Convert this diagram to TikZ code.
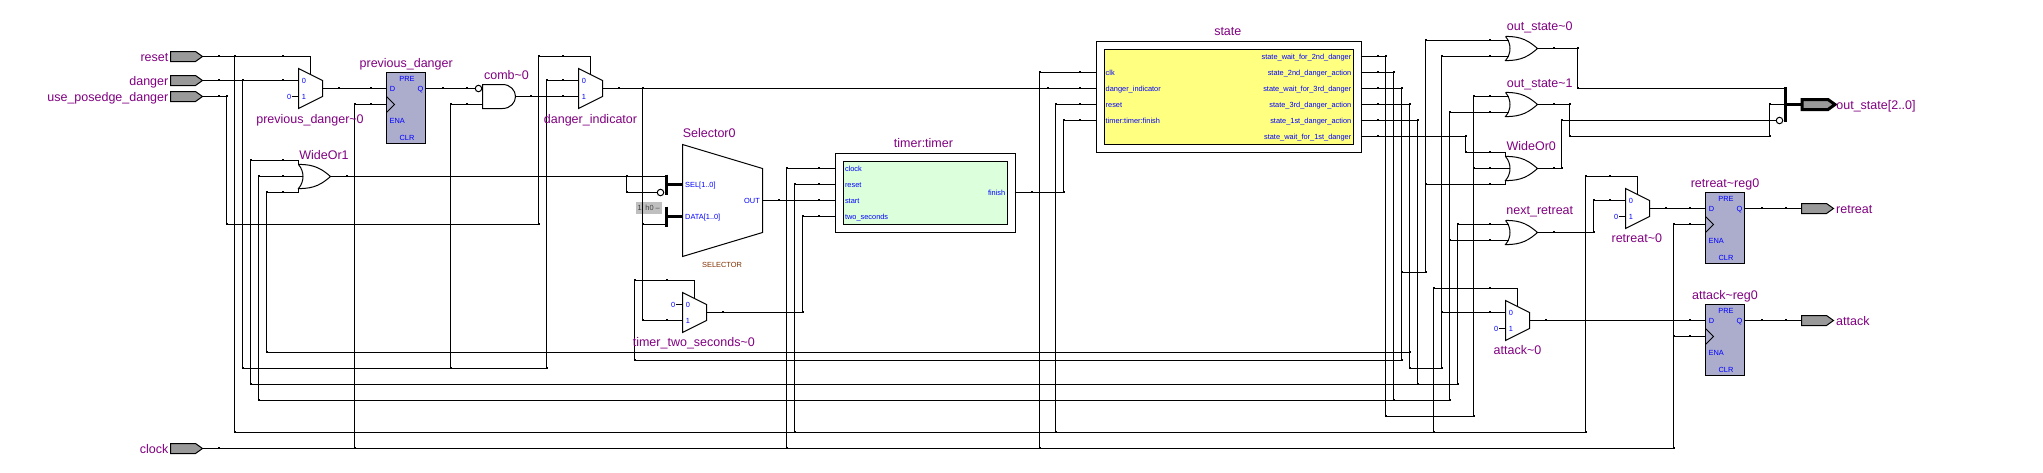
\documentclass[tikz,border=0pt]{standalone}
\usepackage{fontspec}
\setmainfont{Liberation Sans}
\usetikzlibrary{positioning}
\definecolor{labpurple}{RGB}{128,0,128}
\definecolor{pinblue}{RGB}{0,0,255}
\definecolor{ffblue}{RGB}{172,172,204}
\definecolor{portgray}{RGB}{153,153,153}
\definecolor{stateyellow}{RGB}{255,255,128}
\definecolor{timergreen}{RGB}{220,255,220}
\definecolor{selbrown}{RGB}{128,48,0}
\tikzset{
  wire/.style={line width=1pt},
  bus/.style={line width=3.6pt},
  gate/.style={line width=1pt,fill=white},
  lab/.style={text=labpurple,font=\fontsize{12.5}{15}\selectfont,inner sep=0pt,text height=9pt,text depth=0pt},
  pinlab/.style={text=pinblue,font=\fontsize{7.4}{9}\selectfont,inner sep=0pt,text height=5.3pt,text depth=0pt},
  bubble/.style={circle,draw,line width=1pt,fill=white,minimum size=6.5pt,inner sep=0pt},
  outerbox/.style={draw,line width=1pt,fill=white,anchor=north west,inner sep=0pt},
  innerbox/.style={draw,line width=1pt,anchor=north west,inner sep=0pt},
  muxgate/.pic={
    \draw[gate] (0,0)--(24,12)--(24,28)--(0,40)--cycle;
    \coordinate (-a) at (0,12);
    \coordinate (-b) at (0,28);
    \coordinate (-s) at (12,6);
    \coordinate (-t) at (12,-12);
    \coordinate (-o) at (24,20);
    \node[pinlab] (-la) at (5.5,12) {0};
    \node[pinlab] (-lb) at (5.5,28) {1};
  },
  orgate/.pic={
    \draw[gate] (0,0) .. controls (16,-0.5) and (24,5) .. (32,12) .. controls (24,19) and (16,24.5) .. (0,24) .. controls (6,17) and (6,7) .. (0,0);
    \coordinate (-a) at (3,4);
    \coordinate (-b) at (3,20);
    \coordinate (-o) at (32,12);
  },
  widegate/.pic={
    \draw[gate] (0,0) .. controls (16,-0.5) and (24,5) .. (32,12) .. controls (24,19) and (16,24.5) .. (0,24) .. controls (6,17) and (6,7) .. (0,0);
    \draw[wire] (0,-4)--(0,0) (0,24)--(0,28);
    \coordinate (-a) at (0,-4);
    \coordinate (-b) at (4.5,12);
    \coordinate (-c) at (0,28);
    \coordinate (-o) at (32,12);
  },
  flipflop/.pic={
    \draw[line width=1pt,fill=ffblue] (0,0) rectangle (39,71);
    \draw[line width=1pt] (0,24)--(8,32)--(0,40);
    \coordinate (-d) at (0,16);
    \coordinate (-c) at (0,32);
    \coordinate (-q) at (39,16);
    \node[pinlab] (-ld) at (6,16) {D};
    \node[pinlab] (-lq) at (34,16) {Q};
    \node[pinlab] (-lp) at (20.5,6) {PRE};
    \node[pinlab,anchor=west] (-le) at (3,48) {ENA};
    \node[pinlab] (-lc) at (20.5,65) {CLR};
  },
  portshape/.pic={
    \draw[line width=1pt,fill=portgray] (0,-5)--(25,-5)--(32,0)--(25,5)--(0,5)--cycle;
    \coordinate (-i) at (0,0);
    \coordinate (-o) at (32,0);
  },
  busshape/.pic={
    \draw[line width=3pt,fill=portgray] (0,-5)--(26,-5)--(33,0)--(26,5)--(0,5)--cycle;
    \coordinate (-i) at (0,0);
  }
}
\begin{document}
\begin{tikzpicture}[x=1pt,y=-1pt]
\useasboundingbox (0,0) rectangle (2043,472);
\begin{scope}[shift={(0.5,0.5)}]

\foreach \n/\x in {pos/226,rst/234,dng/242,wa/250,wb/258,wc/266,clk/354,cmb/450,posb/538,di/546,sl/626,tm/634,do/642,cl/786,re/794,tw/802,sc/1039,sr/1055,sf/1063,a/1385,b/1393,c/1401,d/1409,e/1417,g/1425,l/1433,h/1441,i/1449,j/1457,f/1465,k/1473,s/1561,r/1569,q/1577,n/1585,m/1593,u/1673,t/1769}
  \coordinate (v\n) at (\x,0);
\foreach \n/\y in {bare/136,out/272,pos/224,wc/352,tm/360,dng/368,wa/384,wb/400,a/416,rst/432}
  \coordinate (h\n) at (0,\y);

\pic (reset) at (170,56) {portshape};
\pic (danger) at (170,80) {portshape};
\pic (posedge) at (170,96) {portshape};
\pic (clock) at (170,448) {portshape};
\node[lab,anchor=east] (resetlab) at (168,56) {reset};
\node[lab,anchor=east] (dangerlab) at (168,80) {danger};
\node[lab,anchor=east] (posedgelab) at (168,96) {use\_posedge\_danger};
\node[lab,anchor=east] (clocklab) at (168,448) {clock};

\pic (prevmux) at (298,68) {muxgate};
\pic (dimux) at (578,68) {muxgate};
\pic (tmux) at (682,292) {muxgate};
\pic (retmux) at (1625,188) {muxgate};
\pic (attmux) at (1505,300) {muxgate};
\pic (prevff) at (386,72) {flipflop};
\pic (retff) at (1705,192) {flipflop};
\pic (attff) at (1705,304) {flipflop};
\pic (wor1) at (298,164) {widegate};
\pic (wor0) at (1505,156) {widegate};
\pic (os0) at (1505,36) {orgate};
\pic (os1) at (1505,92) {orgate};
\pic (nr) at (1505,220) {orgate};

\draw[gate] (482,84) -- (502,84) .. controls (510,84) and (515,90) .. (515,96) .. controls (515,102) and (510,108) .. (502,108) -- (482,108) -- cycle;
\coordinate (comb-b) at (482,104);
\coordinate (comb-o) at (515,96);
\node[bubble] (combbub) at (478,88) {};

\node[pinlab,left=7pt of prevmux-b] (prevzero) {0};
\node[pinlab,left=7pt of tmux-a] (tzero) {0};
\node[pinlab,left=7pt of retmux-b] (retzero) {0};
\node[pinlab,left=7pt of attmux-b] (attzero) {0};
\draw[wire] (prevzero) -- (prevmux-b);
\draw[wire] (tzero) -- (tmux-a);
\draw[wire] (retzero) -- (retmux-b);
\draw[wire] (attzero) -- (attmux-b);

\draw[gate] (682,144)--(762,168)--(762,232)--(682,256)--cycle;
\coordinate (selout) at (762,200);
\node[pinlab,anchor=west] (selsel) at (684.5,184) {SEL[1..0]};
\node[pinlab,anchor=west] (seldata) at (684.5,216) {DATA[1..0]};
\node[pinlab,anchor=east] (seloutlab) at (759.5,200) {OUT};
\node[pinlab,text=selbrown] (selkind) at (721.5,264) {SELECTOR};
\draw[bus] (666,174) -- (666,194);
\draw[bus] (666,206) -- (666,226);
\draw[bus] (666,184) -- (682,184);
\draw[bus] (666,216) -- (682,216);
\coordinate (seltop) at (666,176);
\coordinate (datalow) at (666,224);
\node[bubble] (selbub) at (660,192) {};
\node[fill=black!25,text=black!75,font=\fontsize{7.4}{9}\selectfont,inner sep=0pt,minimum width=26pt,minimum height=12pt,anchor=north west] (constzero) at (635,201) {1' h0 --};

\node[outerbox,minimum width=180pt,minimum height=79pt] (timerbox) at (834,152) {};
\node[innerbox,fill=timergreen,minimum width=164pt,minimum height=63pt] (timerin) at (842,160) {};
\foreach \n/\y/\t in {clock/168/clock,reset/184/reset,start/200/start,two/216/two\_seconds}{
  \coordinate (timer-\n) at (834,\y);
  \node[pinlab,anchor=west] (timerlab\n) at (844.3,\y) {\t};
}
\coordinate (timer-fin) at (1014,192);
\node[pinlab,anchor=east] (timerlabfin) at (1005,192) {finish};

\node[outerbox,minimum width=265pt,minimum height=111pt] (statebox) at (1095,40) {};
\node[innerbox,fill=stateyellow,minimum width=249pt,minimum height=95pt] (statein) at (1103,48) {};
\foreach \n/\y/\t in {clk/72/clk,dng/88/danger\_indicator,rst/104/reset,fin/120/timer:timer:finish}{
  \coordinate (state-\n) at (1095,\y);
  \node[pinlab,anchor=west] (statelab\n) at (1105,\y) {\t};
}
\foreach \n/\y/\t in {a/56/state\_wait\_for\_2nd\_danger,b/72/state\_2nd\_danger\_action,c/88/state\_wait\_for\_3rd\_danger,d/104/state\_3rd\_danger\_action,e/120/state\_1st\_danger\_action,f/136/state\_wait\_for\_1st\_danger}{
  \coordinate (state-\n) at (1360,\y);
  \node[pinlab,anchor=east] (statelab\n) at (1351,\y) {\t};
}

\pic (retreat) at (1801,208) {portshape};
\pic (attack) at (1801,320) {portshape};
\pic (outbus) at (1801.5,104) {busshape};
\draw[bus] (1785,86.5) -- (1785,121.5);
\draw[bus] (1785,104) -- (outbus-i);
\coordinate (busa) at (1785,88);
\coordinate (busb) at (1785,104);
\node[bubble] (busbub) at (1779,120) {};

\draw[wire] (reset-o) -| (prevmux-t) -- (prevmux-s);
\draw[wire] (vrst|-reset-o) |- (vn|-hrst) |- (retmux-t) -- (retmux-s);
\draw[wire] (vre|-hrst) |- (timer-reset);
\draw[wire] (vsr|-hrst) |- (state-rst);
\draw[wire] (vl|-hrst) |- (attmux-t) -- (attmux-s);

\draw[wire] (danger-o) -- (prevmux-a);
\draw[wire] (vdng|-danger-o) |- (vdi|-hdng) |- (dimux-a);
\draw[wire] (vcmb|-hdng) |- (comb-b);

\draw[wire] (posedge-o) -| (vpos|-hpos) -| (vposb|-reset-o) -| (dimux-t) -- (dimux-s);

\draw[wire] (clock-o) -- (vu|-clock-o) |- (retff-c);
\draw[wire] (vu|-attff-c) -- (attff-c);
\draw[wire] (vclk|-clock-o) |- (prevff-c);
\draw[wire] (vcl|-clock-o) |- (timer-clock);
\draw[wire] (vsc|-clock-o) |- (state-clk);

\draw[wire] (prevmux-o) -- (prevff-d);
\draw[wire] (prevff-q) -- (combbub);
\draw[wire] (comb-o) -- (dimux-b);
\draw[wire] (dimux-o) -- (state-dng);
\draw[wire] (vdo|-dimux-o) |- (tmux-b);
\draw[wire] (vdo|-datalow) -- (datalow);

\draw[wire] (wor1-o) -- (seltop);
\draw[wire] (vsl|-seltop) |- (selbub);
\draw[wire] (selout) -- (timer-start);
\draw[wire] (tmux-o) -| (vtw|-timer-two) -- (timer-two);
\draw[wire] (timer-fin) -| (vsf|-state-fin) -- (state-fin);

\draw[wire] (state-a) -| (va|-ha) -| (vk|-os1-a) -- (os1-a);
\draw[wire] (vk|-wor0-b) -- (wor0-b);

\draw[wire] (state-b) -| (vb|-hwb) -| (vi|-os1-b) -- (os1-b);
\draw[wire] (vi|-nr-b) -- (nr-b);
\draw[wire] (wor1-b) -| (vwb|-hwb) -- (vb|-hwb);

\draw[wire] (state-c) -| (vc|-htm) -| (vtm|-tmux-t) -- (tmux-t) -- (tmux-s);
\draw[wire] (vc|-hout) -| (vg|-os0-a) -- (os0-a);
\draw[wire] (vg|-wor0-c) -- (wor0-c);

\draw[wire] (state-d) -| (vd|-hdng) -| (vh|-os0-b) -- (os0-b);
\draw[wire] (vh|-attmux-a) -- (attmux-a);
\draw[wire] (wor1-c) -| (vwc|-hwc) -- (vd|-hwc);

\draw[wire] (state-e) -| (ve|-hwa) -| (vj|-nr-a) -- (nr-a);
\draw[wire] (wor1-a) -| (vwa|-hwa) -- (ve|-hwa);

\draw[wire] (state-f) -| (vf|-wor0-a) -- (wor0-a);

\draw[wire] (os0-o) -| (vq|-busa) -- (busa);
\draw[wire] (os1-o) -| (vr|-hbare) -| (vt|-busb) -- (busb);
\draw[wire] (wor0-o) -| (vs|-busbub) -- (busbub);
\draw[wire] (nr-o) -| (vm|-retmux-a) -- (retmux-a);
\draw[wire] (retmux-o) -- (retff-d);
\draw[wire] (attmux-o) -- (attff-d);
\draw[wire] (retff-q) -- (retreat-i);
\draw[wire] (attff-q) -- (attack-i);

\foreach \x/\y in {218/56,234/56,282/56,218/80,242/80,282/80,218/96,226/96,338/88,370/88,354/104,370/104,442/88,466/88,450/104,466/104,530/96,538/56,562/56,546/80,562/80,562/96,618/88,642/88,250/160,282/160,258/176,282/176,266/192,282/192,346/176,626/176,626/192,226/224,538/224,266/352,242/368,450/368,546/368,250/384,258/400,234/432,218/448,354/448,634/280,666/280,642/320,666/320,634/360,642/224,722/312,802/312,786/168,818/168,794/184,818/184,778/200,818/200,802/216,818/216,1031/192,1063/192,786/448,794/432,1039/448,1055/432,1039/72,1079/72,1047/88,1079/88,1055/104,1079/104,1063/120,1079/120,1377/56,1385/56,1377/72,1393/72,1377/88,1401/88,1377/104,1409/104,1377/120,1417/120,1377/136,1465/136,1465/152,1489/152,1473/168,1489/168,1425/184,1489/184,1425/40,1489/40,1441/56,1489/56,1473/96,1489/96,1449/112,1489/112,1457/224,1489/224,1449/240,1489/240,1553/48,1577/48,1553/104,1569/104,1553/168,1561/168,1553/232,1593/232,1577/88,1561/120,1569/136,1769/136,1769/104,1401/272,1425/272,1433/288,1489/288,1441/312,1489/312,1545/320,1409/352,1401/360,1409/368,1441/368,1417/384,1457/384,1393/400,1449/400,1385/416,1473/416,1433/432,1585/432,1673/448,1585/176,1609/176,1593/200,1609/200,1665/208,1689/208,1673/224,1689/224,1689/320,1673/336,1689/336,1761/208,1785/208,1761/320,1785/320}
  \fill (\x-.5,\y-1.5) rectangle +(2,2);

\node[lab] (prevmuxlab) at (309.5,118) {previous\_danger\textasciitilde 0};
\node[lab] (prevfflab) at (405.7,62) {previous\_danger};
\node[lab] (comblab) at (506,74) {comb\textasciitilde 0};
\node[lab] (dilab) at (590,118) {danger\_indicator};
\node[lab] (wor1lab) at (323.5,154) {WideOr1};
\node[lab] (sellab) at (708.7,132.7) {Selector0};
\node[lab] (tmuxlab) at (693.3,341.7) {timer\_two\_seconds\textasciitilde 0};
\node[lab] (timerlab) at (923,142) {timer:timer};
\node[lab] (statelab) at (1227.3,30.7) {state};
\node[lab] (os0lab) at (1539.3,25.7) {out\_state\textasciitilde 0};
\node[lab] (os1lab) at (1539.3,82) {out\_state\textasciitilde 1};
\node[lab] (wor0lab) at (1530.7,145.7) {WideOr0};
\node[lab] (nrlab) at (1539.3,209.7) {next\_retreat};
\node[lab] (retmuxlab) at (1636.3,237.7) {retreat\textasciitilde 0};
\node[lab] (attmuxlab) at (1517,349.7) {attack\textasciitilde 0};
\node[lab] (retfflab) at (1724.5,182) {retreat\textasciitilde reg0};
\node[lab] (attfflab) at (1724.5,294) {attack\textasciitilde reg0};
\node[lab,anchor=west] (outbuslab) at (1835.7,104) {out\_state[2..0]};
\node[lab,anchor=west] (retreatlab) at (1835.5,208) {retreat};
\node[lab,anchor=west] (attacklab) at (1835.5,320) {attack};
\end{scope}
\end{tikzpicture}
\end{document}
